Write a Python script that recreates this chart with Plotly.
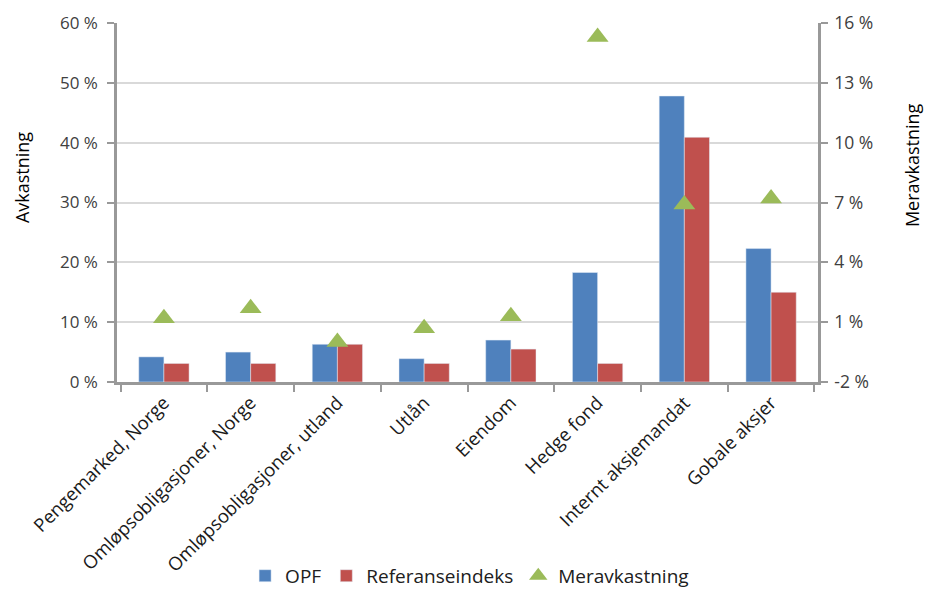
import plotly.graph_objects as go

categories = ["Pengemarked, Norge", "Omløpsobligasjoner, Norge", "Omløpsobligasjoner, utland",
              "Utlån", "Eiendom", "Hedge fond", "Internt aksjemandat", "Gobale aksjer"]
opf = [4.2, 5.0, 6.3, 3.9, 7.0, 18.3, 47.8, 22.3]
referanse = [3.1, 3.1, 6.3, 3.1, 5.5, 3.1, 40.9, 15.0]
meravkastning = [1.2, 1.7, 0.0, 0.7, 1.3, 15.3, 6.9, 7.2]

left_ticks = [0, 10, 20, 30, 40, 50, 60]
right_ticks = [-2, 1, 4, 7, 10, 13, 16]

FONT = "Open Sans"
fig = go.Figure()
fig.add_trace(go.Bar(x=categories, y=opf, name="OPF", marker_color="#4F81BD"))
fig.add_trace(go.Bar(x=categories, y=referanse, name="Referanseindeks", marker_color="#C0504D"))
fig.add_trace(go.Scatter(x=categories, y=meravkastning, name="Meravkastning", mode="markers",
                         marker=dict(symbol="triangle-up", size=19, color="#9BBB59"),
                         yaxis="y2"))

axis_col = "#999999"
fig.update_layout(
    width=926, height=591,
    margin=dict(l=117, r=108, t=23, b=209, autoexpand=False),
    paper_bgcolor="white", plot_bgcolor="white",
    font=dict(family=FONT, size=16, color="#404040"),
    barmode="group", bargap=0.42, bargroupgap=0,
    showlegend=True,
    legend=dict(orientation="h", x=0.503, xanchor="center", y=-0.54, yanchor="middle",
                font=dict(size=19, color="#202020"), itemwidth=30, tracegroupgap=0),
    xaxis=dict(type="category", tickson="boundaries", ticks="outside", ticklen=7,
               tickcolor=axis_col, tickwidth=2, showline=True, linecolor=axis_col, linewidth=2.5,
               tickangle=-45, tickfont=dict(size=18.5, color="#1a1a1a"), showgrid=False,
               automargin=False),
    yaxis=dict(range=[0, 60], tickvals=left_ticks, ticktext=[f"{v} %" for v in left_ticks],
               showline=True, linecolor=axis_col, linewidth=2.5, ticks="outside", ticklen=7,
               tickwidth=2, tickcolor=axis_col, ticklabelstandoff=6,
               gridcolor="#d9d9d9", gridwidth=2, zeroline=False, automargin=False,
               tickfont=dict(size=17, color="#404040")),
    yaxis2=dict(range=[-2, 16], tickvals=right_ticks, ticktext=[f"{v} %" for v in right_ticks],
                overlaying="y", side="right",
                showline=True, linecolor=axis_col, linewidth=2.5, ticks="outside", ticklen=7,
                tickwidth=2, tickcolor=axis_col, showgrid=False, zeroline=False, automargin=False,
                ticklabelstandoff=3,
                tickfont=dict(size=17.5, color="#404040")),
    annotations=[
        dict(text="Avkastning", xref="paper", yref="paper", x=-0.1355, y=0.568,
             textangle=-90, showarrow=False, xanchor="center", yanchor="middle",
             font=dict(size=18, color="#000000")),
        dict(text="Meravkastning", xref="paper", yref="paper", x=1.134, y=0.604,
             textangle=-90, showarrow=False, xanchor="center", yanchor="middle",
             font=dict(size=18, color="#000000")),
    ],
)

fig.write_html("out.html")
